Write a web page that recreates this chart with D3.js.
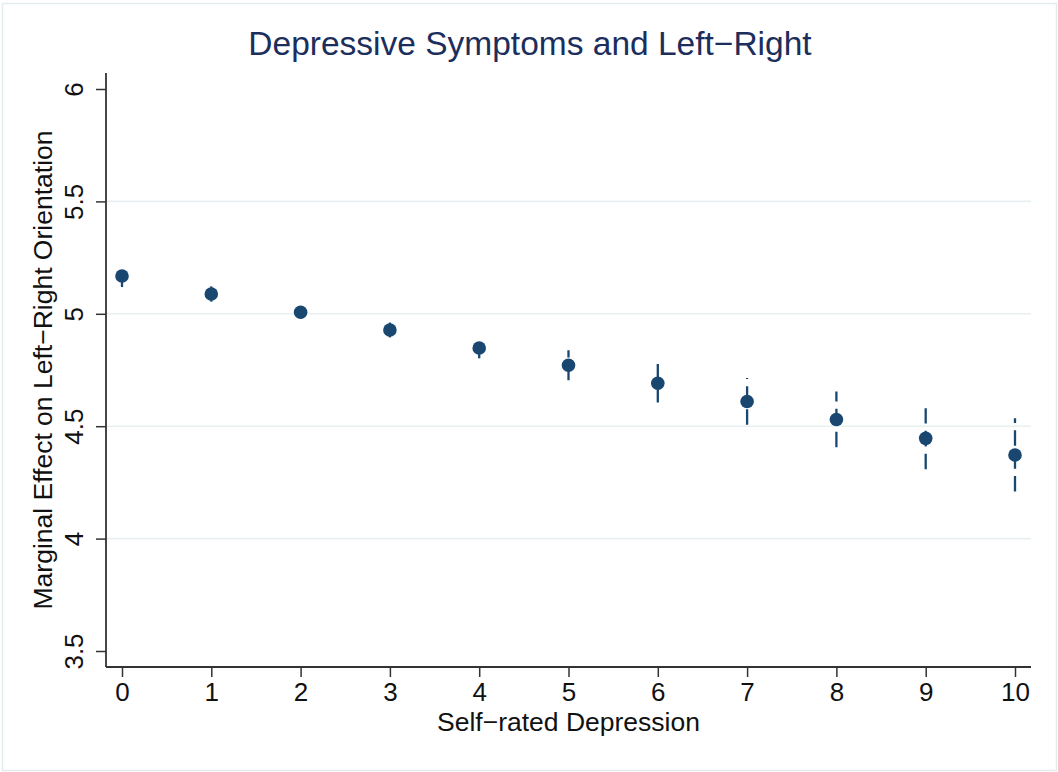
<!DOCTYPE html>
<html>
<head>
<meta charset="utf-8">
<script src="https://cdn.jsdelivr.net/npm/d3@7"></script>
<style>
  html, body { margin: 0; padding: 0; background: #fff; }
  svg { display: block; font-family: "Liberation Sans", Arial, Helvetica, sans-serif; }
</style>
</head>
<body>
<svg id="chart" width="1058" height="772"></svg>
<script>
// Predictive margins of left-right orientation by self-rated depression (with 95% CIs)
const depression = [0, 1, 2, 3, 4, 5, 6, 7, 8, 9, 10];
const margin     = [5.168, 5.088, 5.007, 4.928, 4.848, 4.771, 4.691, 4.610, 4.530, 4.446, 4.372];
const ciLower    = [5.119, 5.054, 4.980, 4.895, 4.802, 4.704, 4.605, 4.506, 4.406, 4.308, 4.209];
const ciUpper    = [5.217, 5.122, 5.034, 4.961, 4.894, 4.838, 4.777, 4.714, 4.654, 4.580, 4.535];
const yTicks     = [3.5, 4, 4.5, 5, 5.5, 6];
const yGrid      = [4, 4.5, 5, 5.5];
const xTicks     = [0, 1, 2, 3, 4, 5, 6, 7, 8, 9, 10];

const W = 1058, H = 772;
const plot = { left: 106, right: 1031, top: 73, bottom: 667 };
const navy = "#1a476f";

const svg = d3.select("#chart");

// outer graph region
svg.append("rect")
  .attr("x", 2.5).attr("y", 3.5)
  .attr("width", W - 4).attr("height", H - 5)
  .attr("fill", "#fff").attr("stroke", "#e4ecee").attr("stroke-width", 1.5);

const x = d3.scaleLinear().domain([0, 10]).range([122, 1015]);
const y = d3.scaleLinear().domain([3.5, 6]).range([651, 89]);

// horizontal grid lines
svg.append("g").selectAll("line").data(yGrid).join("line")
  .attr("x1", plot.left).attr("x2", plot.right)
  .attr("y1", d => y(d)).attr("y2", d => y(d))
  .attr("stroke", "#e8f0f2").attr("stroke-width", 1.6);

// y axis
const yAxis = svg.append("g")
  .attr("transform", `translate(${plot.left},0)`)
  .call(d3.axisLeft(y).tickValues(yTicks).tickFormat(d3.format("")).tickSize(10).tickSizeOuter(0));
yAxis.select(".domain").remove();
yAxis.selectAll(".tick line").attr("stroke", "#333").attr("stroke-width", 1.5);
yAxis.selectAll(".tick text")
  .attr("x", null).attr("dy", null)
  .attr("transform", "translate(-23,0) rotate(-90)")
  .attr("text-anchor", "middle")
  .attr("font-size", 26).attr("fill", "#111");
svg.append("line")
  .attr("x1", plot.left).attr("x2", plot.left)
  .attr("y1", plot.top).attr("y2", plot.bottom)
  .attr("stroke", "#333").attr("stroke-width", 1.8);

// x axis
const xAxis = svg.append("g")
  .attr("transform", `translate(0,${plot.bottom})`)
  .call(d3.axisBottom(x).tickValues(xTicks).tickFormat(d3.format("d")).tickSize(10).tickSizeOuter(0));
xAxis.select(".domain").remove();
xAxis.selectAll(".tick line").attr("stroke", "#333").attr("stroke-width", 1.5);
xAxis.selectAll(".tick text")
  .attr("y", 34).attr("dy", null)
  .attr("font-size", 26).attr("fill", "#111");
svg.append("line")
  .attr("x1", plot.left).attr("x2", plot.right)
  .attr("y1", plot.bottom).attr("y2", plot.bottom)
  .attr("stroke", "#333").attr("stroke-width", 1.8);

// confidence intervals, dashed spikes drawn from lower to upper bound
svg.append("g").selectAll("line").data(depression).join("line")
  .attr("x1", (d, i) => x(d)).attr("x2", (d, i) => x(d))
  .attr("y1", (d, i) => y(ciLower[i])).attr("y2", (d, i) => y(ciUpper[i]))
  .attr("stroke", navy).attr("stroke-width", 2.3)
  .attr("stroke-dasharray", "15.6,7.3");

// point estimates
svg.append("g").selectAll("circle").data(depression).join("circle")
  .attr("cx", d => x(d)).attr("cy", (d, i) => y(margin[i]))
  .attr("r", 6.8).attr("fill", navy);

// titles
svg.append("text")
  .attr("x", 530).attr("y", 55)
  .attr("text-anchor", "middle")
  .attr("font-size", 33.5).attr("fill", "#1c2e5c")
  .text("Depressive Symptoms and Left\u2212Right");

svg.append("text")
  .attr("x", (plot.left + plot.right) / 2).attr("y", 731)
  .attr("text-anchor", "middle")
  .attr("font-size", 26.5).attr("fill", "#111")
  .text("Self\u2212rated Depression");

svg.append("text")
  .attr("transform", `translate(52,${(plot.top + plot.bottom) / 2}) rotate(-90)`)
  .attr("text-anchor", "middle")
  .attr("font-size", 26.5).attr("fill", "#111")
  .text("Marginal Effect on Left\u2212Right Orientation");
</script>
</body>
</html>
